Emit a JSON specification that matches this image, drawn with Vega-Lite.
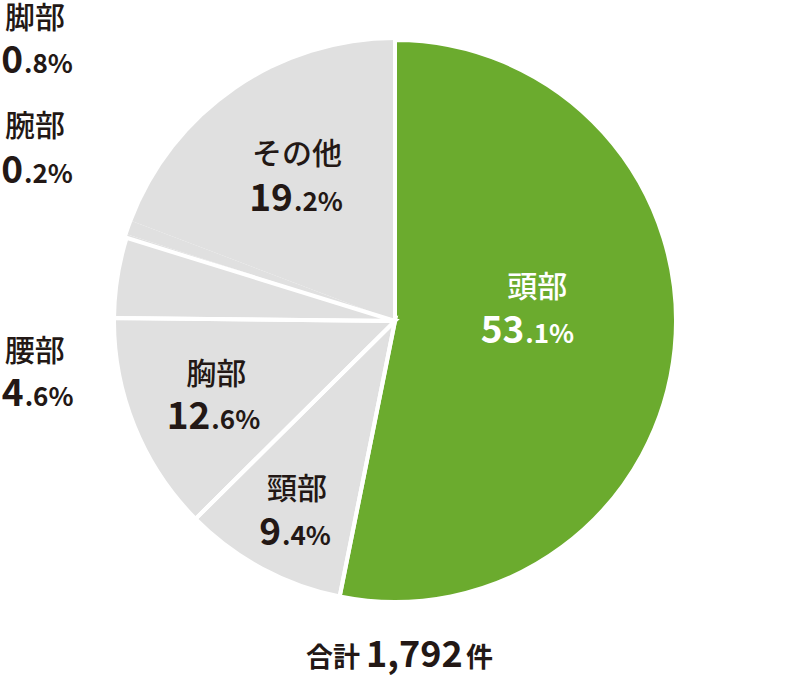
{
  "$schema": "https://vega.github.io/schema/vega-lite/v6.json",
  "width": 790,
  "height": 642,
  "padding": {"left": 0, "top": 0, "right": 0, "bottom": 34},
  "autosize": {"type": "none"},
  "background": "white",
  "config": {
    "view": {"stroke": null},
    "text": {"font": "Noto Sans CJK JP", "color": "#231815", "baseline": "alphabetic"}
  },
  "data": {
    "values": [
      {"part": "頭部", "pct": 53.1},
      {"part": "頸部", "pct": 9.4},
      {"part": "胸部", "pct": 12.6},
      {"part": "腰部", "pct": 4.6},
      {"part": "腕部", "pct": 0.2},
      {"part": "脚部", "pct": 0.8},
      {"part": "その他", "pct": 19.2}
    ]
  },
  "layer": [
    {
      "transform": [
        {"window": [{"op": "row_number", "as": "i"}]},
        {"calculate": "format(floor(datum.pct), 'd')", "as": "ip"},
        {"calculate": "'.' + format(round(datum.pct * 10) % 10, 'd') + '%'", "as": "dp"}
      ],
      "encoding": {
        "theta": {"field": "pct", "type": "quantitative", "stack": true},
        "order": {"field": "i", "type": "quantitative"}
      },
      "layer": [
        {
          "mark": {"type": "arc", "outerRadius": 281},
          "encoding": {
            "color": {
              "field": "part",
              "type": "nominal",
              "scale": {
                "domain": ["頭部", "頸部", "胸部", "腰部", "腕部", "脚部", "その他"],
                "range": ["#6bab2e", "#e0e0e0", "#e0e0e0", "#e0e0e0", "#e0e0e0", "#e0e0e0", "#e0e0e0"]
              },
              "legend": null
            }
          }
        },
        {
          "mark": {"type": "arc", "outerRadius": 281, "filled": false, "stroke": "white"},
          "encoding": {
            "strokeWidth": {
              "condition": {"test": "datum.part === '腕部' || datum.part === '脚部' || datum.part === 'その他'", "value": 0},
              "value": 4
            }
          }
        },

        {"mark": {"type": "text", "radius": 140, "dx": 3, "dy": -38, "align": "center", "fontSize": 30, "fontWeight": 500, "color": "white"},
         "encoding": {"text": {"condition": {"test": "datum.part === '頭部'", "field": "part", "type": "nominal"}, "value": ""}}},
        {"mark": {"type": "text", "radius": 140, "dx": -10, "dy": 8, "align": "right", "fontSize": 37, "fontWeight": "bold", "color": "white"},
         "encoding": {"text": {"condition": {"test": "datum.part === '頭部'", "field": "ip", "type": "nominal"}, "value": ""}}},
        {"mark": {"type": "text", "radius": 140, "dx": -9, "dy": 8, "align": "left", "fontSize": 26, "fontWeight": "bold", "color": "white"},
         "encoding": {"text": {"condition": {"test": "datum.part === '頭部'", "field": "dp", "type": "nominal"}, "value": ""}}},

        {"mark": {"type": "text", "radius": 178, "dx": 3, "dy": -10, "align": "center", "fontSize": 30, "fontWeight": 500},
         "encoding": {"text": {"condition": {"test": "datum.part === 'その他'", "field": "part", "type": "nominal"}, "value": ""}}},
        {"mark": {"type": "text", "radius": 178, "dx": -1, "dy": 37, "align": "right", "fontSize": 37, "fontWeight": "bold"},
         "encoding": {"text": {"condition": {"test": "datum.part === 'その他'", "field": "ip", "type": "nominal"}, "value": ""}}},
        {"mark": {"type": "text", "radius": 178, "dx": 0, "dy": 37, "align": "left", "fontSize": 26, "fontWeight": "bold"},
         "encoding": {"text": {"condition": {"test": "datum.part === 'その他'", "field": "dp", "type": "nominal"}, "value": ""}}},

        {"mark": {"type": "text", "radius": 196, "dx": 3, "dy": -11, "align": "center", "fontSize": 30, "fontWeight": 500},
         "encoding": {"text": {"condition": {"test": "datum.part === '胸部'", "field": "part", "type": "nominal"}, "value": ""}}},
        {"mark": {"type": "text", "radius": 196, "dx": -3, "dy": 34, "align": "right", "fontSize": 37, "fontWeight": "bold"},
         "encoding": {"text": {"condition": {"test": "datum.part === '胸部'", "field": "ip", "type": "nominal"}, "value": ""}}},
        {"mark": {"type": "text", "radius": 196, "dx": -2, "dy": 34, "align": "left", "fontSize": 26, "fontWeight": "bold"},
         "encoding": {"text": {"condition": {"test": "datum.part === '胸部'", "field": "dp", "type": "nominal"}, "value": ""}}},

        {"mark": {"type": "text", "radius": 213, "dx": 3, "dy": -10, "align": "center", "fontSize": 30, "fontWeight": 500},
         "encoding": {"text": {"condition": {"test": "datum.part === '頸部'", "field": "part", "type": "nominal"}, "value": ""}}},
        {"mark": {"type": "text", "radius": 213, "dx": -13, "dy": 36, "align": "right", "fontSize": 37, "fontWeight": "bold"},
         "encoding": {"text": {"condition": {"test": "datum.part === '頸部'", "field": "ip", "type": "nominal"}, "value": ""}}},
        {"mark": {"type": "text", "radius": 213, "dx": -12, "dy": 36, "align": "left", "fontSize": 26, "fontWeight": "bold"},
         "encoding": {"text": {"condition": {"test": "datum.part === '頸部'", "field": "dp", "type": "nominal"}, "value": ""}}},

        {"mark": {"type": "text", "radius": 300, "dx": -107, "dy": -194, "align": "left", "fontSize": 30, "fontWeight": 500},
         "encoding": {"text": {"condition": {"test": "datum.part === '脚部'", "field": "part", "type": "nominal"}, "value": ""}}},
        {"mark": {"type": "text", "radius": 300, "dx": -89, "dy": -149, "align": "right", "fontSize": 37, "fontWeight": "bold"},
         "encoding": {"text": {"condition": {"test": "datum.part === '脚部'", "field": "ip", "type": "nominal"}, "value": ""}}},
        {"mark": {"type": "text", "radius": 300, "dx": -88, "dy": -149, "align": "left", "fontSize": 26, "fontWeight": "bold"},
         "encoding": {"text": {"condition": {"test": "datum.part === '脚部'", "field": "dp", "type": "nominal"}, "value": ""}}},

        {"mark": {"type": "text", "radius": 300, "dx": -104, "dy": -94, "align": "left", "fontSize": 30, "fontWeight": 500},
         "encoding": {"text": {"condition": {"test": "datum.part === '腕部'", "field": "part", "type": "nominal"}, "value": ""}}},
        {"mark": {"type": "text", "radius": 300, "dx": -86, "dy": -47, "align": "right", "fontSize": 37, "fontWeight": "bold"},
         "encoding": {"text": {"condition": {"test": "datum.part === '腕部'", "field": "ip", "type": "nominal"}, "value": ""}}},
        {"mark": {"type": "text", "radius": 300, "dx": -85, "dy": -47, "align": "left", "fontSize": 26, "fontWeight": "bold"},
         "encoding": {"text": {"condition": {"test": "datum.part === '腕部'", "field": "dp", "type": "nominal"}, "value": ""}}},

        {"mark": {"type": "text", "radius": 300, "dx": -94, "dy": 87, "align": "left", "fontSize": 30, "fontWeight": 500},
         "encoding": {"text": {"condition": {"test": "datum.part === '腰部'", "field": "part", "type": "nominal"}, "value": ""}}},
        {"mark": {"type": "text", "radius": 300, "dx": -75, "dy": 132, "align": "right", "fontSize": 37, "fontWeight": "bold"},
         "encoding": {"text": {"condition": {"test": "datum.part === '腰部'", "field": "ip", "type": "nominal"}, "value": ""}}},
        {"mark": {"type": "text", "radius": 300, "dx": -74, "dy": 132, "align": "left", "fontSize": 26, "fontWeight": "bold"},
         "encoding": {"text": {"condition": {"test": "datum.part === '腰部'", "field": "dp", "type": "nominal"}, "value": ""}}}
      ]
    },
    {
      "data": {"values": [{"label": "合計", "total": 1792, "unit": "件"}]},
      "layer": [
        {"mark": {"type": "text", "dx": -35, "dy": 346, "align": "right", "fontSize": 27, "fontWeight": "bold"},
         "encoding": {"text": {"field": "label", "type": "nominal"}}},
        {"mark": {"type": "text", "dx": -29, "dy": 346, "align": "left", "fontSize": 36, "fontWeight": "bold"},
         "encoding": {"text": {"field": "total", "type": "quantitative", "format": ","}}},
        {"mark": {"type": "text", "dx": 71, "dy": 346, "align": "left", "fontSize": 27, "fontWeight": "bold"},
         "encoding": {"text": {"field": "unit", "type": "nominal"}}}
      ]
    }
  ]
}
